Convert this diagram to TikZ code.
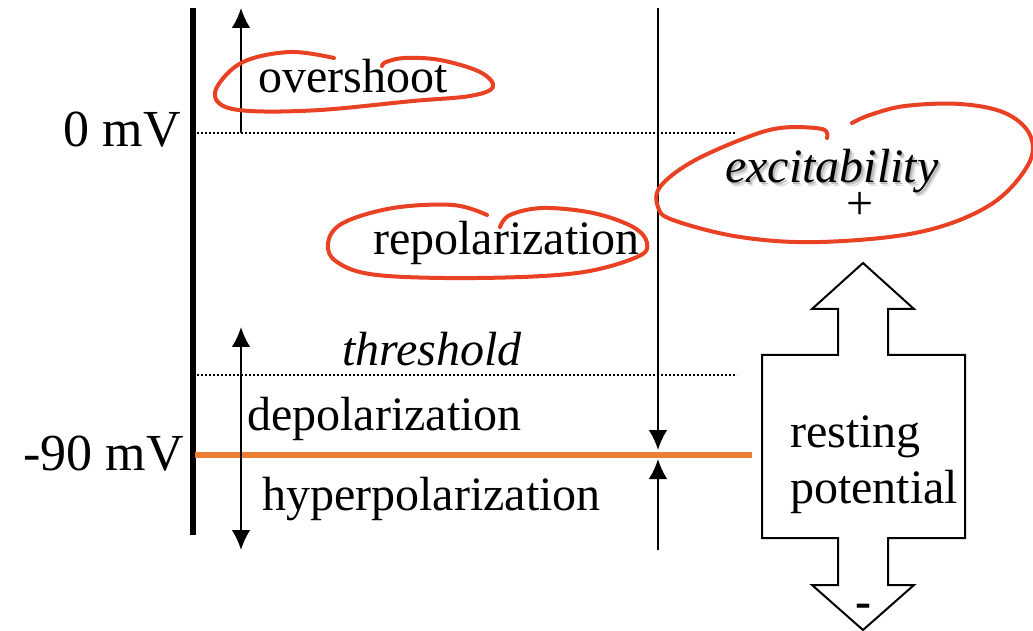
\documentclass[tikz,border=0pt]{standalone}
\usepackage{fontspec}
\setmainfont{Liberation Serif}
\usepackage{tikz}
\usetikzlibrary{calc}
\usetikzlibrary{arrows.meta, positioning}
\definecolor{restorange}{RGB}{237,125,49}
\definecolor{penred}{RGB}{232,65,36}
\tikzset{txt/.style = {font=\fontsize{36}{40}\selectfont, inner sep=0pt, anchor=base west}}
\tikzset{axistxt/.style = {font=\fontsize{39}{44}\selectfont, inner sep=0pt, anchor=base east}}
\tikzset{edge/.style = {-{Latex[length=15pt,width=14pt]}, line width=1.6pt}}
\tikzset{twoway/.style = {{Latex[length=15pt,width=14pt]}-{Latex[length=15pt,width=14pt]}, line width=1.6pt}}
\tikzset{level/.style = {line width=1pt, dash pattern=on 1.2pt off 1.8pt}}
\tikzset{scribble/.style = {penred, line width=3pt, line cap=round, line join=round}}
% word with a soft drop shadow
\newcommand{\shadowword}[1]{%
  \rlap{\kern2.4pt\raisebox{-2.4pt}{\color{gray!25}#1}}%
  \rlap{\kern1.3pt\raisebox{-1.3pt}{\color{gray!55}#1}}#1}

\begin{document}
\begin{tikzpicture}[x=0.75pt, y=-0.75pt]
                    \useasboundingbox (0,0) rectangle (1033,631);

                    % Axis and levels
                    \coordinate (axtop) at (193,8);
                    \coordinate (axbot) at (193,535);
                    \draw [line width=4.5pt] (axtop) -- (axbot);
                    \coordinate (zeroL) at (197,133);
                    \coordinate (zeroR) at (737,133);
                    \draw [level] (zeroL) -- (zeroR);
                    \coordinate (thrL) at (197,375);
                    \coordinate (thrR) at (737,375);
                    \draw [level] (thrL) -- (thrR);
                    \coordinate (restL) at (195,455);
                    \coordinate (restR) at (752,455);
                    \draw [restorange, line width=3.8pt] (restL) -- (restR);

                    % Axis labels
                    \node [axistxt] (zero) at (181,147) {0 mV};
                    \node [axistxt] (rest) at (184,470) {-90 mV};

                    % Phases
                    \node [txt] (overshoot) at (258,93) {overshoot};
                    \node [txt] (repol) at (373,255) {repolarization};
                    \node [txt] (threshold) at (342,365) {\itshape threshold};
                    \node [txt] (depol) at (247,430) {depolarization};
                    \node [txt] (hyperpol) at (262,510) {hyperpolarization};

                    % Arrows along the left
                    \coordinate (upstart) at (241,133);
                    \coordinate (uptip) at (241,8);
                    \draw [edge] (upstart) -- (uptip);
                    \coordinate (dtop) at (241,327);
                    \coordinate (dbot) at (241,550);
                    \draw [twoway] (dtop) -- (dbot);

                    % Arrows meeting on the resting line
                    \coordinate (rtop) at (658,8);
                    \coordinate (rtopend) at (658,450);
                    \draw [edge] (rtop) -- (rtopend);
                    \coordinate (rbot) at (658,550);
                    \coordinate (rbotend) at (658,459);
                    \draw [edge] (rbot) -- (rbotend);

                    % Excitability
                    \node [txt] (excite) at (725,183) {\itshape\shadowword{excitability}};
                    \node [font=\fontsize{36}{40}\selectfont, inner sep=0pt] (plus) at (860,206) {+};

                    % Block arrow round the resting potential
                    \draw [line width=1.5pt, line join=miter]
                      (863,263) -- (914,309) -- (888,309) -- (888,355) -- (965,355)
                      -- (965,538) -- (888,538) -- (888,585) -- (914,585) -- (863,630)
                      -- (812,585) -- (838,585) -- (838,538) -- (762,538) -- (762,355)
                      -- (838,355) -- (838,309) -- (812,309) -- cycle;
                    \node [txt] (resting) at (790,447) {resting};
                    \node [txt] (potential) at (790,503) {potential};
                    \node [font=\fontsize{36}{40}\selectfont\bfseries, inner sep=0pt] (minus) at (863,611) {-};

                    % Pen marks
                    \draw [scribble] plot [smooth, tension=0.6] coordinates {
                      (334,58) (290,52) (243,62) (217,87) (220,104) (250,111) (320,110)
                      (413,101) (470,96) (493,87) (480,72) (440,60) (405,58) (386,62) (382,66)};
                    \draw [scribble] plot [smooth, tension=0.6] coordinates {
                      (487,215) (453,205) (393,208) (343,223) (328,243) (337,262) (377,275)
                      (477,278) (577,273) (637,257) (647,243) (633,227) (593,213) (543,208)
                      (510,215) (500,227)};
                    \draw [scribble] plot [smooth, tension=0.6] coordinates {
                      (827,138) (822,129) (780,128) (740,140) (690,163) (660,187) (658,207)
                      (673,220) (740,237) (820,242) (920,232) (990,205) (1028,165) (1030,135)
                      (1005,113) (960,104) (905,106) (870,115) (852,123)};
                 \end{tikzpicture}
\end{document}
